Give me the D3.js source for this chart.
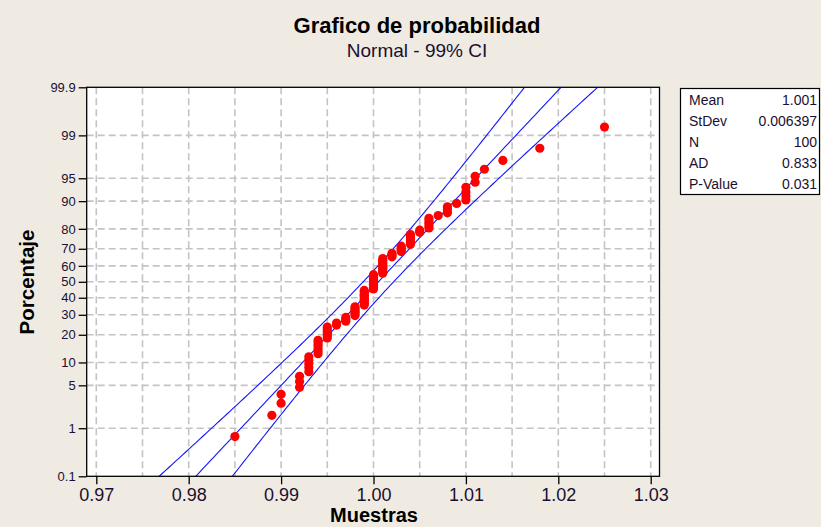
<!DOCTYPE html>
<html>
<head>
<meta charset="utf-8">
<script src="https://cdn.jsdelivr.net/npm/d3@7"></script>
<style>
  html, body { margin: 0; padding: 0; background: #EFEBE3; }
  svg { display: block; font-family: "Liberation Sans", Arial, sans-serif; }
</style>
</head>
<body>
<svg id="chart" width="821" height="527"></svg>
<script>
// Sample measurements (distinct values) and how many times each occurs
const sampleValues = [0.985, 0.989, 0.990, 0.992, 0.993, 0.994, 0.995, 0.996, 0.997, 0.998,
                      0.999, 1.000, 1.001, 1.002, 1.003, 1.004, 1.005, 1.006, 1.007, 1.008,
                      1.009, 1.010, 1.011, 1.012, 1.014, 1.018, 1.025];
const sampleCounts = [1, 1, 2, 3, 5, 6, 6, 2, 3, 6,
                      10, 10, 10, 3, 4, 6, 2, 5, 1, 3,
                      1, 4, 2, 1, 1, 1, 1];

// Axis ticks
const xTickValues = [0.97, 0.98, 0.99, 1.00, 1.01, 1.02, 1.03];
const xGridValues = [0.97, 0.975, 0.98, 0.985, 0.99, 0.995, 1.00, 1.005, 1.01, 1.015, 1.02, 1.025, 1.03];
const yTickPercents = [0.1, 1, 5, 10, 20, 30, 40, 50, 60, 70, 80, 90, 95, 99, 99.9];
const yTickLabels = ["0.1", "1", "5", "10", "20", "30", "40", "50", "60", "70", "80", "90", "95", "99", "99.9"];

// Goodness-of-fit results shown in the summary box
const statLabels = ["Mean", "StDev", "N", "AD", "P-Value"];
const andersonDarling = 0.833;
const pValue = 0.031;
const confidenceLevel = 0.99;

// Inverse standard normal CDF (Acklam's rational approximation)
function probit(p) {
  const a = [-3.969683028665376e+01, 2.209460984245205e+02, -2.759285104469687e+02,
             1.383577518672690e+02, -3.066479806614716e+01, 2.506628277459239e+00];
  const b = [-5.447609879822406e+01, 1.615858368580409e+02, -1.556989798598866e+02,
             6.680131188771972e+01, -1.328068155288572e+01];
  const c = [-7.784894002430293e-03, -3.223964580411365e-01, -2.400758277161838e+00,
             -2.549732539343734e+00, 4.374664141464968e+00, 2.938163982698783e+00];
  const d = [7.784695709041462e-03, 3.224671290700398e-01, 2.445134137142996e+00,
             3.754408661907416e+00];
  const pl = 0.02425, ph = 1 - pl;
  let q, r;
  if (p < pl) {
    q = Math.sqrt(-2 * Math.log(p));
    return (((((c[0]*q + c[1])*q + c[2])*q + c[3])*q + c[4])*q + c[5]) /
           ((((d[0]*q + d[1])*q + d[2])*q + d[3])*q + 1);
  }
  if (p <= ph) {
    q = p - 0.5; r = q * q;
    return (((((a[0]*r + a[1])*r + a[2])*r + a[3])*r + a[4])*r + a[5]) * q /
           (((((b[0]*r + b[1])*r + b[2])*r + b[3])*r + b[4])*r + 1);
  }
  q = Math.sqrt(-2 * Math.log(1 - p));
  return -(((((c[0]*q + c[1])*q + c[2])*q + c[3])*q + c[4])*q + c[5]) /
          ((((d[0]*q + d[1])*q + d[2])*q + d[3])*q + 1);
}

// Expand the frequency table into the sorted sample
const samples = [];
sampleValues.forEach((v, i) => { for (let k = 0; k < sampleCounts[i]; k++) samples.push(v); });
samples.sort(d3.ascending);
const n = samples.length;
const mean = d3.mean(samples);
const sd = d3.deviation(samples);

// Median-rank plotting positions
const points = samples.map((v, i) => ({ v, z: probit((i + 1 - 0.3) / (n + 0.4)) }));

const svg = d3.select("#chart");
const frame = { left: 86.7, right: 659.5, top: 87.3, bottom: 476.3 };
const zMax = probit(0.999);

const x = d3.scaleLinear().domain([0.97, 1.03]).range([96.3, 650.7]);
const y = d3.scaleLinear().domain([-zMax, zMax]).range([frame.bottom, frame.top]);

// Title
svg.append("text").attr("x", 417).attr("y", 33).attr("text-anchor", "middle")
  .attr("font-size", 22).attr("font-weight", "bold").attr("fill", "#000")
  .text("Grafico de probabilidad");
svg.append("text").attr("x", 417).attr("y", 57).attr("text-anchor", "middle")
  .attr("font-size", 19).attr("fill", "#1a1030")
  .text("Normal - 99% CI");

// Plot background
svg.append("rect")
  .attr("x", frame.left).attr("y", frame.top)
  .attr("width", frame.right - frame.left).attr("height", frame.bottom - frame.top)
  .attr("fill", "#fff");

svg.append("clipPath").attr("id", "plot-clip")
  .append("rect")
  .attr("x", frame.left).attr("y", frame.top)
  .attr("width", frame.right - frame.left).attr("height", frame.bottom - frame.top);

// Dashed gridlines
const grid = svg.append("g").attr("stroke", "#C4C4C4").attr("stroke-width", 1.6)
  .attr("stroke-dasharray", "7,4");
grid.selectAll("line.v").data(xGridValues).join("line").attr("class", "v")
  .attr("x1", d => x(d)).attr("x2", d => x(d))
  .attr("y1", frame.top).attr("y2", frame.bottom);
grid.selectAll("line.h").data(yTickPercents.filter(p => p > 0.1 && p < 99.9)).join("line").attr("class", "h")
  .attr("x1", frame.left).attr("x2", frame.right)
  .attr("y1", d => y(probit(d / 100))).attr("y2", d => y(probit(d / 100)));

// Fitted line and confidence bands
const zCrit = probit(1 - (1 - confidenceLevel) / 2);
const zGrid = d3.range(-3.6, 3.6001, 0.05);
const band = zGrid.map(z => {
  const fit = mean + z * sd;
  const half = zCrit * sd * Math.sqrt(1 / n + z * z / (2 * n));
  return { z, fit, lo: fit - half, hi: fit + half };
});
const lineGen = key => d3.line().x(d => x(d[key])).y(d => y(d.z));
const lines = svg.append("g").attr("clip-path", "url(#plot-clip)")
  .attr("fill", "none").attr("stroke", "#1414FF").attr("stroke-width", 1.1);
lines.append("path").attr("d", lineGen("fit")(band));
lines.append("path").attr("d", lineGen("lo")(band));
lines.append("path").attr("d", lineGen("hi")(band));

// Sample points
svg.append("g").attr("clip-path", "url(#plot-clip)")
  .selectAll("circle").data(points).join("circle")
  .attr("cx", d => x(d.v)).attr("cy", d => y(d.z)).attr("r", 4.6)
  .attr("fill", "#FF0000");

// Frame
svg.append("rect")
  .attr("x", frame.left).attr("y", frame.top)
  .attr("width", frame.right - frame.left).attr("height", frame.bottom - frame.top)
  .attr("fill", "none").attr("stroke", "#000").attr("stroke-width", 1.3);

// Axes
const yAxis = d3.axisLeft(y)
  .tickValues(yTickPercents.map(p => probit(p / 100)))
  .tickFormat((d, i) => yTickLabels[i])
  .tickSize(8).tickPadding(3);
const gy = svg.append("g").attr("transform", `translate(${frame.left},0)`).call(yAxis);
gy.select(".domain").remove();
gy.selectAll("line").attr("stroke", "#000").attr("stroke-width", 1.3);
gy.selectAll("text").attr("font-size", 13).attr("fill", "#1a1030")
  .attr("font-family", "Liberation Sans, Arial, sans-serif");

const xAxis = d3.axisBottom(x).tickValues(xTickValues).tickFormat(d3.format(".2f"))
  .tickSize(8).tickPadding(4);
const gx = svg.append("g").attr("transform", `translate(0,${frame.bottom})`).call(xAxis);
gx.select(".domain").remove();
gx.selectAll("line").attr("stroke", "#000").attr("stroke-width", 1.3);
gx.selectAll("text").attr("font-size", 18).attr("fill", "#1a1030")
  .attr("font-family", "Liberation Sans, Arial, sans-serif");

// Axis titles
svg.append("text").attr("transform", "translate(33.5,282) rotate(-90)")
  .attr("text-anchor", "middle").attr("font-size", 20.5).attr("font-weight", "bold")
  .text("Porcentaje");
svg.append("text").attr("x", 374).attr("y", 521.5).attr("text-anchor", "middle")
  .attr("font-size", 20).attr("font-weight", "bold")
  .text("Muestras");

// Summary statistics box
const statValues = [d3.format(".3f")(mean), d3.format(".6f")(sd), String(n),
                    d3.format(".3f")(andersonDarling), d3.format(".3f")(pValue)];
const box = svg.append("g");
box.append("rect").attr("x", 680.5).attr("y", 88.5).attr("width", 139).attr("height", 106)
  .attr("fill", "#fff").attr("stroke", "#000").attr("stroke-width", 1.2);
statLabels.forEach((lab, i) => {
  const by = 105 + i * 21;
  box.append("text").attr("x", 689).attr("y", by).attr("font-size", 14).attr("fill", "#1a1030").text(lab);
  box.append("text").attr("x", 817).attr("y", by).attr("text-anchor", "end")
    .attr("font-size", 14).attr("fill", "#1a1030").text(statValues[i]);
});
</script>
</body>
</html>
